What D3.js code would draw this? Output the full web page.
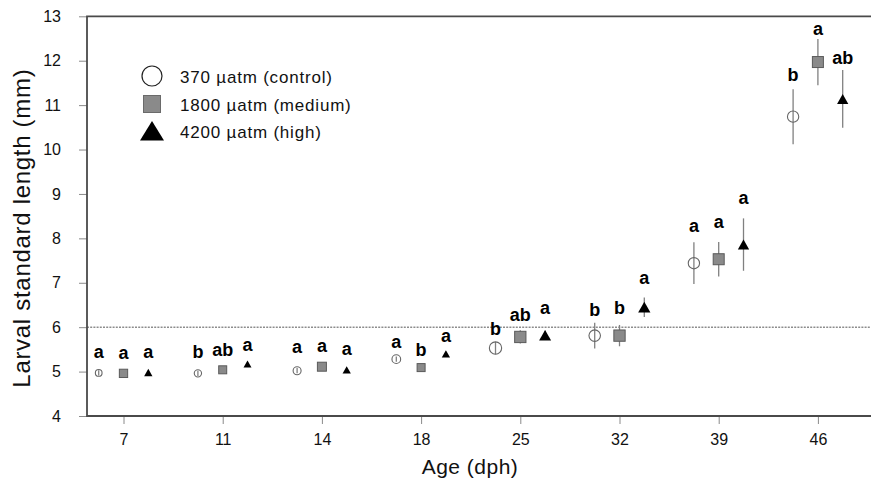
<!DOCTYPE html>
<html>
<head>
<meta charset="utf-8">
<script src="https://cdnjs.cloudflare.com/ajax/libs/d3/7.8.5/d3.min.js"></script>
<style>
  html, body { margin: 0; padding: 0; background: #fff; }
  svg { display: block; font-family: "Liberation Sans", Arial, Helvetica, sans-serif; }
</style>
</head>
<body>
<svg id="chart" width="871" height="487"></svg>
<script>
// ---------------- DATA ----------------
const ages = ["7", "11", "14", "18", "25", "32", "39", "46"];
const yTicks = [4, 5, 6, 7, 8, 9, 10, 11, 12, 13];
const seriesNames = ["370 µatm (control)", "1800 µatm (medium)", "4200 µatm (high)"];

const controlMean = [4.97, 4.96, 5.02, 5.28, 5.53, 5.81, 7.44, 10.74];
const mediumMean  = [4.96, 5.04, 5.11, 5.09, 5.78, 5.81, 7.53, 11.97];
const highMean    = [4.98, 5.17, 5.04, 5.40, 5.82, 6.45, 7.86, 11.14];

const controlErr = [0.06, 0.06, 0.06, 0.06, 0.14, 0.29, 0.47, 0.62];
const mediumErr  = [0.05, 0.05, 0.05, 0.07, 0.15, 0.24, 0.39, 0.52];
const highErr    = [0.04, 0.04, 0.04, 0.05, 0.10, 0.22, 0.59, 0.65];

const controlSig = ["a", "b", "a", "a", "b", "b", "a", "b"];
const mediumSig  = ["a", "ab", "a", "b", "ab", "b", "a", "a"];
const highSig    = ["a", "a", "a", "a", "a", "a", "a", "ab"];

// value (mm) at which each significance letter sits
const controlSigAt = [5.31, 5.30, 5.41, 5.52, 5.82, 6.25, 8.14, 11.55];
const mediumSigAt  = [5.28, 5.35, 5.45, 5.34, 6.14, 6.30, 8.24, 12.58];
const highSigAt    = [5.31, 5.47, 5.37, 5.66, 6.29, 6.97, 8.77, 11.93];

const refLine = 6;

// ---------------- STYLE ----------------
const W = 871, H = 487;
const plot = { left: 87, right: 880, top: 16.3, bottom: 416 };
const groupOffset = { control: -0.25, medium: 0, high: 0.25 };
const markerPx = {
  control: [6.7, 7.3, 8, 8.7, 12.3, 11.5, 11.3, 11.3],
  medium:  [8.3, 8, 9, 8, 11.3, 11.3, 11, 11],
  high:    [8.3, 8, 8.3, 8.3, 12, 12.3, 11.3, 11.3]
};
const axisColor = "#4a4a4a";
const tickColor = "#8a8a8a";
const errColor = "#808080";

const svg = d3.select("#chart");

const x = d3.scaleLinear().domain([-0.368, 7.626]).range([plot.left, plot.right]);
const y = d3.scaleLinear().domain([4, 13]).range([plot.bottom, plot.top]);

// y axis
const yAxis = svg.append("g")
  .attr("transform", `translate(${plot.left},0)`)
  .call(d3.axisLeft(y).tickValues(yTicks).tickSize(8).tickPadding(18).tickFormat(d3.format("d")));
yAxis.select(".domain").remove();
yAxis.selectAll(".tick line").attr("stroke", tickColor).attr("stroke-width", 1);
yAxis.selectAll(".tick text").attr("font-size", 16).attr("fill", "#111")
  .style("font-family", '"Liberation Sans", Arial, sans-serif');

// x axis
const xAxis = svg.append("g")
  .attr("transform", `translate(0,${plot.bottom})`)
  .call(d3.axisBottom(x).tickValues(d3.range(ages.length)).tickFormat(i => ages[i]).tickSize(8).tickPadding(10));
xAxis.select(".domain").remove();
xAxis.selectAll(".tick line").attr("stroke", tickColor).attr("stroke-width", 1);
xAxis.selectAll(".tick text").attr("font-size", 16).attr("fill", "#111")
  .style("font-family", '"Liberation Sans", Arial, sans-serif');

// reference dotted line
svg.append("line")
  .attr("x1", plot.left).attr("x2", W)
  .attr("y1", y(refLine)).attr("y2", y(refLine))
  .attr("stroke", "#555").attr("stroke-width", 1)
  .attr("stroke-dasharray", "2,1.2");

// frame: top, left, bottom
svg.append("path")
  .attr("d", `M${W},${y(13)}H${plot.left}V${y(4)}H${W}`)
  .attr("fill", "none").attr("stroke", axisColor).attr("stroke-width", 1.8);

// series
const series = [
  { key: "control", mean: controlMean, err: controlErr, sig: controlSig, sigAt: controlSigAt },
  { key: "medium",  mean: mediumMean,  err: mediumErr,  sig: mediumSig,  sigAt: mediumSigAt },
  { key: "high",    mean: highMean,    err: highErr,    sig: highSig,    sigAt: highSigAt }
];

function triPath(w) {
  const h = w * 0.88;
  return `M0,${-h / 2}L${w / 2},${h / 2}L${-w / 2},${h / 2}Z`;
}

series.forEach(s => {
  const g = svg.append("g");
  const pts = s.mean.map((m, i) => ({ i, m, e: s.err[i], sig: s.sig[i], at: s.sigAt[i], size: markerPx[s.key][i] }));
  const px = d => x(d.i + groupOffset[s.key]);

  // error bars
  g.selectAll("line.err").data(pts).join("line")
    .attr("class", "err")
    .attr("x1", px).attr("x2", px)
    .attr("y1", d => y(d.m + d.e)).attr("y2", d => y(d.m - d.e))
    .attr("stroke", errColor).attr("stroke-width", 1.3);

  // markers
  if (s.key === "control") {
    g.selectAll("circle").data(pts).join("circle")
      .attr("cx", px).attr("cy", d => y(d.m)).attr("r", d => d.size / 2)
      .attr("fill", "none").attr("stroke", "#666").attr("stroke-width", 1.1);
  } else if (s.key === "medium") {
    g.selectAll("rect").data(pts).join("rect")
      .attr("x", d => px(d) - d.size / 2).attr("y", d => y(d.m) - d.size / 2)
      .attr("width", d => d.size).attr("height", d => d.size)
      .attr("fill", "#8a8a8a").attr("stroke", "#5a5a5a").attr("stroke-width", 1);
  } else {
    g.selectAll("path").data(pts).join("path")
      .attr("transform", d => `translate(${px(d)},${y(d.m)})`)
      .attr("d", d => triPath(d.size))
      .attr("fill", "#000");
  }

  // significance letters
  g.selectAll("text").data(pts).join("text")
    .attr("x", px).attr("y", d => y(d.at))
    .attr("text-anchor", "middle")
    .attr("font-size", 18).attr("font-weight", "bold").attr("fill", "#000")
    .text(d => d.sig);
});

// axis titles
svg.append("text")
  .attr("transform", `translate(30,${(y(4) + y(13)) / 2 + 12}) rotate(-90)`)
  .attr("text-anchor", "middle")
  .attr("font-size", 24).attr("letter-spacing", 0.7).attr("fill", "#111")
  .text("Larval standard length (mm)");

svg.append("text")
  .attr("x", 470).attr("y", 474)
  .attr("text-anchor", "middle")
  .attr("font-size", 21).attr("letter-spacing", 0.5).attr("fill", "#111")
  .text("Age (dph)");

// legend
const legend = svg.append("g");
const legX = 152, legTextX = 180, legY = [76, 104, 131];
legend.append("circle").attr("cx", legX).attr("cy", legY[0]).attr("r", 10)
  .attr("fill", "#fff").attr("stroke", "#222").attr("stroke-width", 1.2);
legend.append("rect").attr("x", legX - 8.5).attr("y", legY[1] - 8.5).attr("width", 17).attr("height", 17)
  .attr("fill", "#8a8a8a").attr("stroke", "#6a6a6a").attr("stroke-width", 1);
legend.append("path").attr("transform", `translate(${legX},${legY[2]})`)
  .attr("d", "M0,-10L12,9.5L-12,9.5Z").attr("fill", "#000");
legend.selectAll("text").data(seriesNames).join("text")
  .attr("x", legTextX).attr("y", (d, i) => legY[i] + 6.5)
  .attr("font-size", 17).attr("letter-spacing", 0.8).attr("fill", "#111")
  .text(d => d);
</script>
</body>
</html>
